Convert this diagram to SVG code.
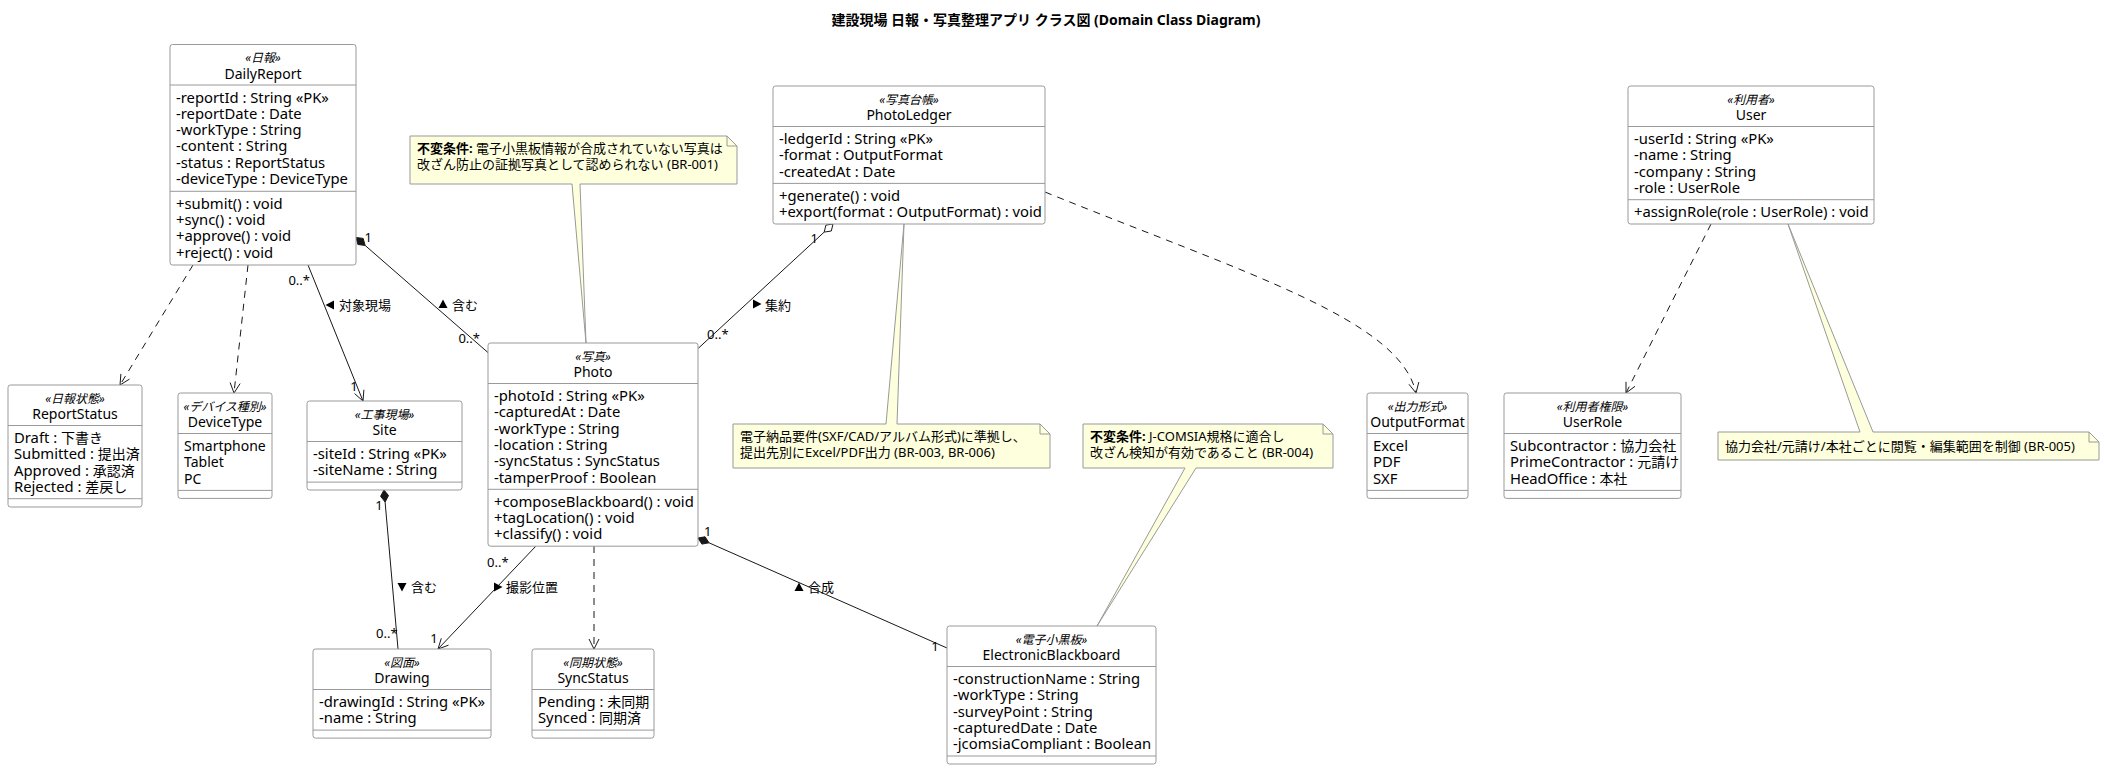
<svg xmlns="http://www.w3.org/2000/svg" width="2104" height="770" viewBox="0 0 2104 770">
<defs>
<style>
text { font-family: 'Noto Sans','Noto Sans CJK JP',sans-serif; fill:#000; }
.box { fill:#fff; stroke:#999; stroke-width:1; }
.sep { stroke:#999; stroke-width:1; }
.st { font-size:12px; font-style:italic; text-anchor:middle; }
.nm { font-size:14px; text-anchor:middle; }
.at { font-size:14.8px; }
.cj { font-size:14px; }
.lb { font-size:13px; }
.nt { fill:#FEFFDD; stroke:#999; stroke-width:1; }
.nf { fill:none; stroke:#999; stroke-width:1; }
.nx { font-size:13px; }
.ln { fill:none; stroke:#181818; stroke-width:1; }
.dl { fill:none; stroke:#181818; stroke-width:1; stroke-dasharray:7,6; }
.ah { fill:none; stroke:#181818; stroke-width:1; }
.fd { fill:#181818; stroke:#181818; stroke-width:1; }
.od { fill:#fff; stroke:#181818; stroke-width:1; }
.title { font-size:14px; font-weight:bold; text-anchor:middle; }
</style>
<path id="tri" d="M-4,-4.5 L4.5,0 L-4,4.5 Z" fill="#000"/>
</defs>
<rect width="2104" height="770" fill="#fff"/>
<text class="title" x="1046" y="25">建設現場 日報・写真整理アプリ クラス図 (Domain Class Diagram)</text>

<g id="connectors">
  <!-- DailyReport to ReportStatus -->
  <path class="dl" d="M193,265 L120,385"/>
  <polyline class="ah" points="129.5,379.1 120,385 120.9,373.9"/>
  <!-- DailyReport to DeviceType -->
  <path class="dl" d="M248,265 L234,393"/>
  <polyline class="ah" points="240.1,383.6 234,393 230.1,382.5"/>
  <!-- DailyReport to Site -->
  <path class="ln" d="M308,265 L363,401"/>
  <polyline class="ah" points="363.9,389.8 363,401 354.6,393.6"/>
  <text class="lb" x="310" y="285" text-anchor="end">0..*</text>
  <text class="lb" x="354" y="391" text-anchor="middle">1</text>
  <use href="#tri" transform="translate(330,305) rotate(180)"/>
  <text class="lb" x="339" y="309.5">対象現場</text>
  <!-- DailyReport composition Photo -->
  <path class="ln" d="M365.1,245.4 L488.5,353"/>
  <polygon class="fd" points="356,237.5 357.9,244.5 365.1,245.4 363.2,238.4"/>
  <text class="lb" x="364.5" y="241.5">1</text>
  <text class="lb" x="480" y="343" text-anchor="end">0..*</text>
  <use href="#tri" transform="translate(443,304) rotate(-90)"/>
  <text class="lb" x="452" y="309.5">含む</text>
  <!-- PhotoLedger aggregation Photo -->
  <path class="ln" d="M824.2,232.1 L698.3,348.3"/>
  <polygon class="od" points="833,224 831.3,231 824.2,232.1 825.9,225.1"/>
  <text class="lb" x="818" y="243" text-anchor="end">1</text>
  <text class="lb" x="707" y="339">0..*</text>
  <use href="#tri" transform="translate(757,304)"/>
  <text class="lb" x="765" y="309.5">集約</text>
  <!-- Photo to SyncStatus -->
  <path class="dl" d="M594,546 L594,649"/>
  <polyline class="ah" points="589,639 594,649 599,639"/>
  <!-- Photo to Drawing -->
  <path class="ln" d="M536,546 L438,649"/>
  <polyline class="ah" points="448.5,645.2 438,649 441.3,638.3"/>
  <text class="lb" x="487" y="567">0..*</text>
  <text class="lb" x="434" y="643" text-anchor="middle">1</text>
  <use href="#tri" transform="translate(498,587)"/>
  <text class="lb" x="506" y="592">撮影位置</text>
  <!-- Site composition Drawing -->
  <path class="ln" d="M385.1,502 L398,649"/>
  <polygon class="fd" points="384,490 380.6,496.3 385.1,502 388.5,495.6"/>
  <text class="lb" x="379" y="510" text-anchor="middle">1</text>
  <text class="lb" x="376" y="638">0..*</text>
  <use href="#tri" transform="translate(402,587) rotate(90)"/>
  <text class="lb" x="411" y="592">含む</text>
  <!-- Photo composition ElectronicBlackboard -->
  <path class="ln" d="M709,542.8 L947,648"/>
  <polygon class="fd" points="698,538 701.9,544.1 709,542.8 705.1,536.8"/>
  <text class="lb" x="704" y="536">1</text>
  <text class="lb" x="935" y="651" text-anchor="middle">1</text>
  <use href="#tri" transform="translate(799,587) rotate(-90)"/>
  <text class="lb" x="808" y="592">合成</text>
  <!-- PhotoLedger to OutputFormat -->
  <path class="dl" d="M1045,192 C1250,275 1400,320 1416,393"/>
  <polyline class="ah" points="1418.8,382.1 1416,393 1409,384.3"/>
  <!-- User to UserRole -->
  <path class="dl" d="M1711,224 L1626,393"/>
  <polyline class="ah" points="1635,386.3 1626,393 1626,381.8"/>
</g>

<g id="DailyReport">
  <rect class="box" x="170" y="44.5" width="186" height="220.5" rx="2.5"/>
  <line class="sep" x1="170" y1="85" x2="356" y2="85"/>
  <line class="sep" x1="170" y1="191.3" x2="356" y2="191.3"/>
  <text class="st" x="263" y="62">«日報»</text>
  <text class="nm" x="263" y="78.5">DailyReport</text>
  <text class="at" x="176" y="102.5">-reportId : String «PK»</text>
  <text class="at" x="176" y="118.8">-reportDate : Date</text>
  <text class="at" x="176" y="135.1">-workType : String</text>
  <text class="at" x="176" y="151.4">-content : String</text>
  <text class="at" x="176" y="167.7">-status : ReportStatus</text>
  <text class="at" x="176" y="184">-deviceType : DeviceType</text>
  <text class="at" x="176" y="208.8">+submit() : void</text>
  <text class="at" x="176" y="225.1">+sync() : void</text>
  <text class="at" x="176" y="241.4">+approve() : void</text>
  <text class="at" x="176" y="257.7">+reject() : void</text>
</g>

<g id="PhotoLedger">
  <rect class="box" x="773" y="86" width="272" height="138" rx="2.5"/>
  <line class="sep" x1="773" y1="126.5" x2="1045" y2="126.5"/>
  <line class="sep" x1="773" y1="183.4" x2="1045" y2="183.4"/>
  <text class="st" x="909" y="103.5">«写真台帳»</text>
  <text class="nm" x="909" y="120">PhotoLedger</text>
  <text class="at" x="779" y="144">-ledgerId : String «PK»</text>
  <text class="at" x="779" y="160.3">-format : OutputFormat</text>
  <text class="at" x="779" y="176.6">-createdAt : Date</text>
  <text class="at" x="779" y="200.9">+generate() : void</text>
  <text class="at" x="779" y="217.2">+export(format : OutputFormat) : void</text>
</g>

<g id="User">
  <rect class="box" x="1628" y="86" width="246" height="138" rx="2.5"/>
  <line class="sep" x1="1628" y1="126.5" x2="1874" y2="126.5"/>
  <line class="sep" x1="1628" y1="199.7" x2="1874" y2="199.7"/>
  <text class="st" x="1751" y="103.5">«利用者»</text>
  <text class="nm" x="1751" y="120">User</text>
  <text class="at" x="1634" y="144">-userId : String «PK»</text>
  <text class="at" x="1634" y="160.3">-name : String</text>
  <text class="at" x="1634" y="176.6">-company : String</text>
  <text class="at" x="1634" y="192.9">-role : UserRole</text>
  <text class="at" x="1634" y="217.2">+assignRole(role : UserRole) : void</text>
</g>

<g id="ReportStatus">
  <rect class="box" x="8" y="385" width="134" height="122" rx="2.5"/>
  <line class="sep" x1="8" y1="425.5" x2="142" y2="425.5"/>
  <line class="sep" x1="8" y1="498.7" x2="142" y2="498.7"/>
  <text class="st" x="75" y="402.5">«日報状態»</text>
  <text class="nm" x="75" y="419">ReportStatus</text>
  <text class="at" x="14" y="443">Draft : <tspan class="cj">下書き</tspan></text>
  <text class="at" x="14" y="459.3">Submitted : <tspan class="cj">提出済</tspan></text>
  <text class="at" x="14" y="475.6">Approved : <tspan class="cj">承認済</tspan></text>
  <text class="at" x="14" y="491.9">Rejected : <tspan class="cj">差戻し</tspan></text>
</g>

<g id="DeviceType">
  <rect class="box" x="178" y="393" width="94" height="105.4" rx="2.5"/>
  <line class="sep" x1="178" y1="433.5" x2="272" y2="433.5"/>
  <line class="sep" x1="178" y1="490.4" x2="272" y2="490.4"/>
  <text class="st" x="225" y="410.5">«デバイス種別»</text>
  <text class="nm" x="225" y="427">DeviceType</text>
  <text class="cj" x="184" y="451">Smartphone</text>
  <text class="cj" x="184" y="467.3">Tablet</text>
  <text class="cj" x="184" y="483.6">PC</text>
</g>

<g id="Site">
  <rect class="box" x="307" y="401" width="155" height="89" rx="2.5"/>
  <line class="sep" x1="307" y1="441.5" x2="462" y2="441.5"/>
  <line class="sep" x1="307" y1="482.1" x2="462" y2="482.1"/>
  <text class="st" x="384.5" y="418.5">«工事現場»</text>
  <text class="nm" x="384.5" y="435">Site</text>
  <text class="at" x="313" y="459">-siteId : String «PK»</text>
  <text class="at" x="313" y="475.3">-siteName : String</text>
</g>

<g id="Photo">
  <rect class="box" x="488" y="343" width="210" height="203.2" rx="2.5"/>
  <line class="sep" x1="488" y1="383.5" x2="698" y2="383.5"/>
  <line class="sep" x1="488" y1="489.3" x2="698" y2="489.3"/>
  <text class="st" x="593" y="360.5">«写真»</text>
  <text class="nm" x="593" y="377">Photo</text>
  <text class="at" x="494" y="401">-photoId : String «PK»</text>
  <text class="at" x="494" y="417.3">-capturedAt : Date</text>
  <text class="at" x="494" y="433.6">-workType : String</text>
  <text class="at" x="494" y="449.9">-location : String</text>
  <text class="at" x="494" y="466.2">-syncStatus : SyncStatus</text>
  <text class="at" x="494" y="482.5">-tamperProof : Boolean</text>
  <text class="at" x="494" y="506.8">+composeBlackboard() : void</text>
  <text class="at" x="494" y="523.1">+tagLocation() : void</text>
  <text class="at" x="494" y="539.4">+classify() : void</text>
</g>

<g id="Drawing">
  <rect class="box" x="313" y="649" width="178" height="89.1" rx="2.5"/>
  <line class="sep" x1="313" y1="689.5" x2="491" y2="689.5"/>
  <line class="sep" x1="313" y1="730.1" x2="491" y2="730.1"/>
  <text class="st" x="402" y="666.5">«図面»</text>
  <text class="nm" x="402" y="683">Drawing</text>
  <text class="at" x="319" y="707">-drawingId : String «PK»</text>
  <text class="at" x="319" y="723.3">-name : String</text>
</g>

<g id="SyncStatus">
  <rect class="box" x="532" y="649" width="122" height="89.1" rx="2.5"/>
  <line class="sep" x1="532" y1="689.5" x2="654" y2="689.5"/>
  <line class="sep" x1="532" y1="730.1" x2="654" y2="730.1"/>
  <text class="st" x="593" y="666.5">«同期状態»</text>
  <text class="nm" x="593" y="683">SyncStatus</text>
  <text class="at" x="538" y="707">Pending : <tspan class="cj">未同期</tspan></text>
  <text class="at" x="538" y="723.3">Synced : <tspan class="cj">同期済</tspan></text>
</g>

<g id="ElectronicBlackboard">
  <rect class="box" x="947" y="626" width="209" height="138" rx="2.5"/>
  <line class="sep" x1="947" y1="666.5" x2="1156" y2="666.5"/>
  <line class="sep" x1="947" y1="756" x2="1156" y2="756"/>
  <text class="st" x="1051.5" y="643.5">«電子小黒板»</text>
  <text class="nm" x="1051.5" y="660">ElectronicBlackboard</text>
  <text class="at" x="953" y="684">-constructionName : String</text>
  <text class="at" x="953" y="700.3">-workType : String</text>
  <text class="at" x="953" y="716.6">-surveyPoint : String</text>
  <text class="at" x="953" y="732.9">-capturedDate : Date</text>
  <text class="at" x="953" y="749.2">-jcomsiaCompliant : Boolean</text>
</g>

<g id="OutputFormat">
  <rect class="box" x="1367" y="393" width="101" height="105.4" rx="2.5"/>
  <line class="sep" x1="1367" y1="433.5" x2="1468" y2="433.5"/>
  <line class="sep" x1="1367" y1="490.4" x2="1468" y2="490.4"/>
  <text class="st" x="1417.5" y="410.5">«出力形式»</text>
  <text class="nm" x="1417.5" y="427">OutputFormat</text>
  <text class="at" x="1373" y="451">Excel</text>
  <text class="at" x="1373" y="467.3">PDF</text>
  <text class="at" x="1373" y="483.6">SXF</text>
</g>

<g id="UserRole">
  <rect class="box" x="1504" y="393" width="177" height="105.4" rx="2.5"/>
  <line class="sep" x1="1504" y1="433.5" x2="1681" y2="433.5"/>
  <line class="sep" x1="1504" y1="490.4" x2="1681" y2="490.4"/>
  <text class="st" x="1592.5" y="410.5">«利用者権限»</text>
  <text class="nm" x="1592.5" y="427">UserRole</text>
  <text class="at" x="1510" y="451">Subcontractor : <tspan class="cj">協力会社</tspan></text>
  <text class="at" x="1510" y="467.3">PrimeContractor : <tspan class="cj">元請け</tspan></text>
  <text class="at" x="1510" y="483.6">HeadOffice : <tspan class="cj">本社</tspan></text>
</g>

<g id="note-BR001">
  <path class="nt" d="M410,136 L727,136 L737,146 L737,184 L580,184 L586,343 L572,184 L410,184 Z"/>
  <path class="nf" d="M727,136 L727,146 L737,146"/>
  <text class="nx" x="417" y="152.5"><tspan font-weight="bold">不変条件:</tspan> 電子小黒板情報が合成されていない写真は</text>
  <text class="nx" x="417" y="169">改ざん防止の証拠写真として認められない (BR-001)</text>
</g>

<g id="note-BR003">
  <path class="nt" d="M733,424 L886,424 L904,224 L897,424 L1040,424 L1050,434 L1050,468 L733,468 Z"/>
  <path class="nf" d="M1040,424 L1040,434 L1050,434"/>
  <text class="nx" x="740" y="440.5">電子納品要件(SXF/CAD/アルバム形式)に準拠し、</text>
  <text class="nx" x="740" y="457">提出先別にExcel/PDF出力 (BR-003, BR-006)</text>
</g>

<g id="note-BR004">
  <path class="nt" d="M1083,424 L1323,424 L1333,434 L1333,468 L1196,468 L1097,626 L1185,468 L1083,468 Z"/>
  <path class="nf" d="M1323,424 L1323,434 L1333,434"/>
  <text class="nx" x="1090" y="440.5"><tspan font-weight="bold">不変条件:</tspan> J-COMSIA規格に適合し</text>
  <text class="nx" x="1090" y="457">改ざん検知が有効であること (BR-004)</text>
</g>

<g id="note-BR005">
  <path class="nt" d="M1718,432 L1860,432 L1788,224 L1873,432 L2089,432 L2099,442 L2099,460 L1718,460 Z"/>
  <path class="nf" d="M2089,432 L2089,442 L2099,442"/>
  <text class="nx" x="1725" y="451">協力会社/元請け/本社ごとに閲覧・編集範囲を制御 (BR-005)</text>
</g>
</svg>
